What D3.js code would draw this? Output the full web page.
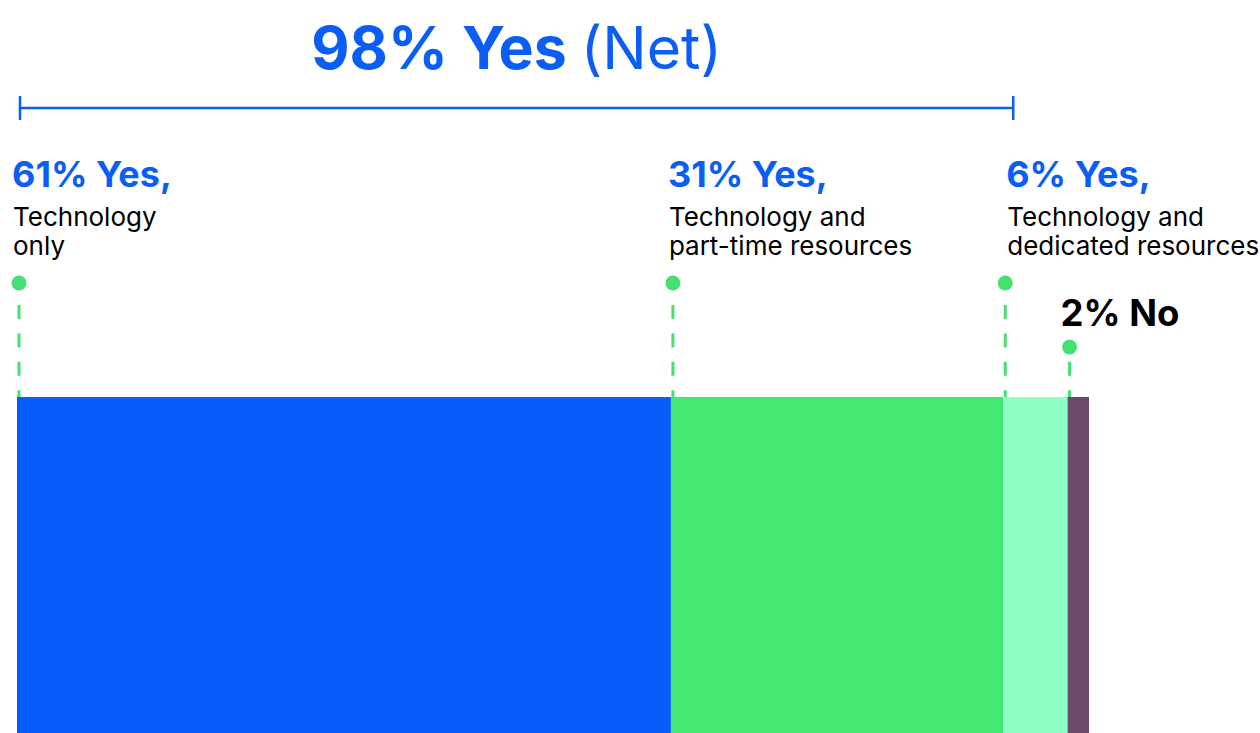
<!DOCTYPE html>
<html>
<head>
<meta charset="utf-8">
<script src="https://cdn.jsdelivr.net/npm/d3@7"></script>
<style>
  html, body { margin: 0; padding: 0; background: #fff; }
  svg { display: block; font-family: Inter, "Noto Sans", sans-serif; }
</style>
</head>
<body>
<svg id="chart" width="1260" height="733"></svg>
<script>
// Share of respondents by type of support
const categories = ["Technology only", "Technology and part-time resources", "Technology and dedicated resources", "No"];
const values = [61, 31, 6, 2];
const headlines = ["61% Yes,", "31% Yes,", "6% Yes,", "2% No"];
const subLines = [["Technology", "only"], ["Technology and", "part-time resources"], ["Technology and", "dedicated resources"], []];
const colors = ["#065dfb", "#45e773", "#8effc4", "#6b4a6c"];
const netValue = 98;
const netTitleBold = "98% Yes";
const netTitleLight = "(Net)";

const BLUE = "#0a5ef5";
const DOT = "#45e070";

const svg = d3.select("#chart");

const x = d3.scaleLinear().domain([0, 100]).range([17, 1089]);
const barTop = 397, barBottom = 740;

// stacked segments
let acc = 0;
const segs = values.map((v, i) => {
  const s = { i, start: acc, end: acc + v, v };
  acc += v;
  return s;
});

svg.append("g").selectAll("rect")
  .data(segs)
  .join("rect")
  .attr("x", d => x(d.start))
  .attr("y", barTop)
  .attr("width", d => x(d.end) - x(d.start))
  .attr("height", barBottom - barTop)
  .attr("fill", d => colors[d.i]);

// leader markers: dot + dashed drop line at each segment start
const dotY = [283, 283, 283, 347];
const dashPeriod = 28.4, dashLen = 14, dashStart = 305;
const leaders = svg.append("g");
segs.forEach((d, k) => {
  const cx = x(d.start) + 2;
  const y0 = dotY[k] + 8;
  leaders.append("line")
    .attr("x1", cx).attr("x2", cx)
    .attr("y1", y0).attr("y2", barTop)
    .attr("stroke", DOT)
    .attr("stroke-width", 3)
    .attr("stroke-dasharray", `${dashLen} ${dashPeriod - dashLen}`)
    .attr("stroke-dashoffset", (((y0 - dashStart) % dashPeriod) + dashPeriod) % dashPeriod);
  leaders.append("circle")
    .attr("cx", cx).attr("cy", dotY[k]).attr("r", 7.5)
    .attr("fill", DOT);
});

// segment labels
const labelDx = [-5, -3, 3, -7];
const labels = svg.append("g");
segs.forEach((d, k) => {
  const lx = x(d.start) + labelDx[k];
  const last = k === segs.length - 1;
  labels.append("text")
    .attr("x", lx)
    .attr("y", last ? 326 : 187)
    .attr("font-size", last ? 36.5 : 36)
    .attr("font-weight", 700)
    .attr("fill", last ? "#000" : BLUE)
    .text(headlines[k]);
  subLines[k].forEach((line, j) => {
    labels.append("text")
      .attr("x", lx + 1)
      .attr("y", 226 + j * 28.5)
      .attr("font-size", 26)
      .attr("fill", "#000")
      .text(line);
  });
});

// net bracket
const bx0 = x(0) + 3, bx1 = x(values[0] + values[1]) + 10;
const bracket = svg.append("g").attr("stroke", BLUE).attr("stroke-width", 2.5);
bracket.append("line").attr("x1", bx0).attr("x2", bx1).attr("y1", 108).attr("y2", 108);
bracket.append("line").attr("x1", bx0).attr("x2", bx0).attr("y1", 96).attr("y2", 120);
bracket.append("line").attr("x1", bx1).attr("x2", bx1).attr("y1", 96).attr("y2", 120);

const title = svg.append("text")
  .attr("x", (bx0 + bx1) / 2)
  .attr("y", 69)
  .attr("text-anchor", "middle")
  .attr("fill", BLUE)
  .attr("font-size", 59);
title.append("tspan").attr("font-weight", 700).text(netTitleBold + " ");
title.append("tspan").attr("font-weight", 400).text(netTitleLight);
</script>
</body>
</html>
